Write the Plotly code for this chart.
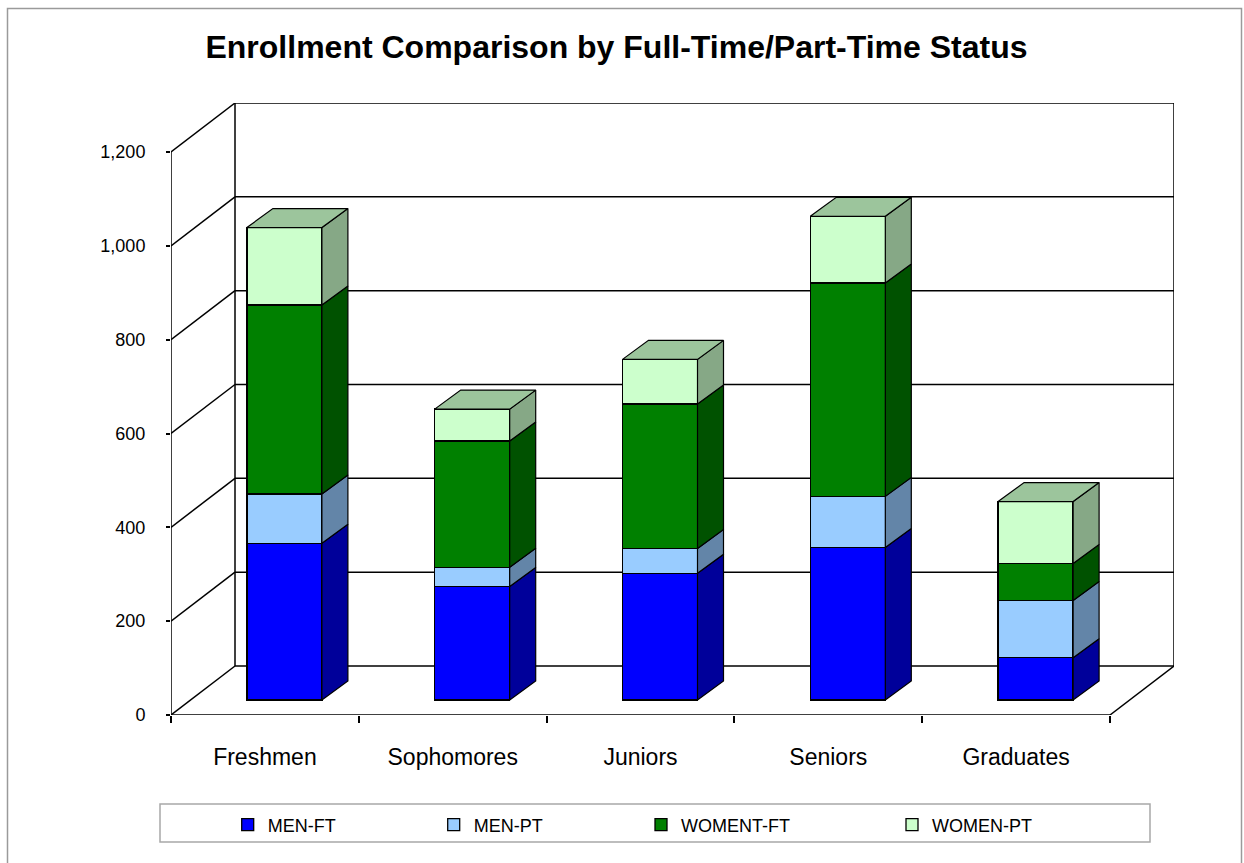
import plotly.graph_objects as go

# ---------------- data ----------------
categories = ["Freshmen", "Sophomores", "Juniors", "Seniors", "Graduates"]
men_ft = [334, 242, 270, 325, 90]
men_pt = [105, 41, 53, 109, 122]
women_ft = [403, 269, 308, 455, 79]
women_pt = [165, 68, 95, 142, 132]
series_names = ["MEN-FT", "MEN-PT", "WOMENT-FT", "WOMEN-PT"]
y_ticks = [0, 200, 400, 600, 800, 1000, 1200]

series_values = [men_ft, men_pt, women_ft, women_pt]
front_colors = ["#0000FF", "#99CCFF", "#008000", "#CCFFCC"]
side_colors = ["#00009A", "#6385A8", "#005200", "#86A886"]
top_color = "#9CC59C"

# ---------------- geometry (pixels) ----------------
W, H = 1244, 863
PL, PR, PT, PB = 171, 1174, 103, 715          # plot area
floor_right = 1110                              # front floor right end
cat_px = (floor_right - PL) / len(categories)   # px per category
unit_px = (PB - 152) / 1200                     # px per value unit

x_min = -0.5
x_max = x_min + (PR - PL) / cat_px
y_max = (PB - PT) / unit_px

wall_dx = 64 / cat_px        # depth of floor in x units
wall_dy = 49 / unit_px       # depth of floor in y units
bar_y_shift = 15 / unit_px   # bars' front faces sit a bit behind the front edge
bar_x_shift = 19.5 / cat_px
bar_w = 75 / cat_px
bar_dx = 26 / cat_px
bar_dy = 19 / unit_px

n = len(categories)
xs = list(range(n))
bar_offset = -bar_w / 2 + bar_x_shift

fig = go.Figure()

# front faces (stacked bars)
legend_ids = ["legend", "legend2", "legend3", "legend4"]
for name, vals, col, lg in zip(series_names, series_values, front_colors, legend_ids):
    fig.add_trace(go.Bar(
        x=xs, y=vals, name=name, yaxis="y2",
        width=bar_w, offset=bar_offset,
        marker=dict(color=col, line=dict(color="black", width=1.3)),
        legend=lg,
        customdata=categories,
        hovertemplate="%{customdata}<br>" + name + ": %{y}<extra></extra>",
    ))

# side faces
bottoms = [0] * n
for vals, scol in zip(series_values, side_colors):
    px, py = [], []
    for i in range(n):
        xr = i + bar_offset + bar_w
        b = bottoms[i]
        t = b + vals[i]
        px += [xr, xr + bar_dx, xr + bar_dx, xr, xr, None]
        py += [b, b + bar_dy, t + bar_dy, t, b, None]
        bottoms[i] = t
    fig.add_trace(go.Scatter(
        x=px, y=py, yaxis="y2", mode="lines", fill="toself",
        fillcolor=scol, line=dict(color="black", width=1.2),
        showlegend=False, hoverinfo="skip",
    ))

# top faces
px, py = [], []
for i in range(n):
    xl = i + bar_offset
    xr = xl + bar_w
    T = bottoms[i]
    px += [xl, xl + bar_dx, xr + bar_dx, xr, xl, None]
    py += [T, T + bar_dy, T + bar_dy, T, T, None]
fig.add_trace(go.Scatter(
    x=px, y=py, yaxis="y2", mode="lines", fill="toself",
    fillcolor=top_color, line=dict(color="black", width=1.2),
    showlegend=False, hoverinfo="skip",
))

# ---------------- 3D frame (shapes) ----------------
shapes = []
line = dict(color="black", width=1.5)
x_back_l = x_min + wall_dx
x_back_r = x_min + n + wall_dx
y_top = y_ticks[-1]
for v in y_ticks:
    # back-wall gridline
    shapes.append(dict(type="line", xref="x", yref="y", x0=x_back_l, x1=x_back_r,
                       y0=v + wall_dy, y1=v + wall_dy, line=line, layer="below"))
    # side-wall diagonal
    shapes.append(dict(type="line", xref="x", yref="y", x0=x_min, x1=x_back_l,
                       y0=v, y1=v + wall_dy, line=line, layer="below"))
# back wall verticals
shapes.append(dict(type="line", xref="x", yref="y", x0=x_back_l, x1=x_back_l,
                   y0=wall_dy, y1=y_top + wall_dy, line=line, layer="below"))
shapes.append(dict(type="line", xref="x", yref="y", x0=x_back_r, x1=x_back_r,
                   y0=wall_dy, y1=y_top + wall_dy, line=line, layer="below"))
# front vertical axis line
shapes.append(dict(type="line", xref="x", yref="y", x0=x_min, x1=x_min,
                   y0=0, y1=y_top, line=line, layer="below"))
# floor front edge and right diagonal
shapes.append(dict(type="line", xref="x", yref="y", x0=x_min, x1=x_min + n,
                   y0=0, y1=0, line=line, layer="below"))
shapes.append(dict(type="line", xref="x", yref="y", x0=x_min + n, x1=x_back_r,
                   y0=0, y1=wall_dy, line=line, layer="below"))


def px2paper_x(p):
    return (p - PL) / (PR - PL)


def px2paper_y(p):
    return (PB - p) / (PB - PT)


# legend box
shapes.append(dict(type="rect", xref="paper", yref="paper",
                   x0=px2paper_x(160), x1=px2paper_x(1150),
                   y0=px2paper_y(842), y1=px2paper_y(804),
                   line=dict(color="#A8A8A8", width=1.5), fillcolor="rgba(0,0,0,0)"))
# outer chart border
shapes.append(dict(type="rect", xref="paper", yref="paper",
                   x0=px2paper_x(7.5), x1=px2paper_x(1241.5),
                   y0=px2paper_y(900), y1=px2paper_y(8.5),
                   line=dict(color="#9A9A9A", width=1.5), fillcolor="rgba(0,0,0,0)"))

font_family = "Liberation Sans, Arial, sans-serif"
legend_text_x = [265.7, 471.7, 679, 930]
legends = {}
for lg, tx in zip(legend_ids, legend_text_x):
    legends[lg] = dict(
        x=px2paper_x(tx - 38), xanchor="left",
        y=px2paper_y(825), yanchor="middle",
        orientation="h", bgcolor="rgba(0,0,0,0)",
        font=dict(family=font_family, size=18, color="black"),
        borderwidth=0, tracegroupgap=0,
    )

fig.update_layout(
    width=W, height=H,
    margin=dict(l=PL, r=W - PR, t=PT, b=H - PB, pad=0),
    paper_bgcolor="white", plot_bgcolor="white",
    barmode="stack",
    font=dict(family=font_family, color="black"),
    title=dict(
        text="<b>Enrollment Comparison by Full-Time/Part-Time Status</b>",
        x=616.5 / W, xanchor="center", xref="container",
        y=1 - 47 / H, yanchor="middle", yref="container",
        font=dict(family=font_family, size=32, color="black"),
    ),
    xaxis=dict(
        range=[x_min, x_max], showgrid=False, zeroline=False, showline=False,
        tickmode="array", tickvals=xs, ticktext=categories,
        ticks="outside", ticklen=21, tickcolor="rgba(0,0,0,0)",
        tickfont=dict(family=font_family, size=23, color="black"),
        minor=dict(tickmode="array", tickvals=[x_min + k for k in range(n + 1)],
                   ticks="outside", ticklen=7, tickcolor="black", tickwidth=1.5,
                   showgrid=False),
        fixedrange=True,
    ),
    yaxis=dict(
        range=[0, y_max], showgrid=False, zeroline=False, showline=False,
        tickmode="array", tickvals=y_ticks, tickformat=",",
        ticks="outside", ticklen=4, tickcolor="black", tickwidth=1.5,
        ticklabelstandoff=17,
        tickfont=dict(family=font_family, size=18, color="black"),
        fixedrange=True,
    ),
    yaxis2=dict(
        range=[-bar_y_shift, y_max - bar_y_shift], overlaying="y",
        visible=False, fixedrange=True,
    ),
    shapes=shapes,
    **legends,
)

fig.write_html("out.html", config={"displayModeBar": False},
               post_script="document.body.style.margin='0';")
